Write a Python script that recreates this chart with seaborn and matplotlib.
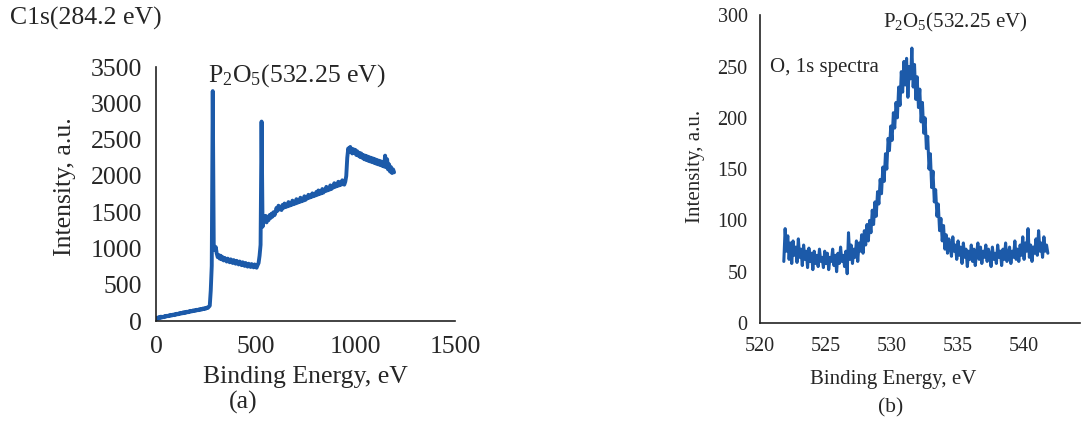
import numpy as np
import pandas as pd
import seaborn as sns
from matplotlib import pyplot as plt

# survey spectrum (a), binding energy every 5 eV from 0 to 1195
survey_start = 0
survey_step = 5
survey_intensity = [
    25, 45, 30, 55, 40, 60, 48, 58, 52, 70, 60, 72, 66, 78, 70, 85, 76, 88, 80, 95,
    86, 100, 92, 106, 98, 112, 104, 118, 108, 124, 114, 128, 120, 134, 126, 140, 132, 145, 138, 150,
    142, 155, 148, 160, 152, 166, 158, 172, 164, 178, 170, 185, 180, 195, 210, 420, 760, 3170, 1060, 980,
    1020, 930, 880, 910, 860, 900, 850, 880, 835, 870, 845, 820, 860, 830, 810, 850, 825, 800, 840, 815,
    790, 830, 805, 780, 820, 790, 770, 810, 785, 760, 800, 775, 750, 790, 770, 745, 785, 760, 740, 780,
    755, 735, 770, 800, 900, 1050, 2750, 1300, 1420, 1380, 1450, 1360, 1430, 1390, 1460, 1420, 1480, 1440, 1500, 1460,
    1500, 1560, 1520, 1590, 1540, 1570, 1530, 1600, 1560, 1620, 1570, 1600, 1580, 1640, 1590, 1620, 1600, 1660, 1610, 1640,
    1620, 1680, 1630, 1660, 1640, 1700, 1650, 1680, 1660, 1720, 1670, 1700, 1690, 1740, 1700, 1730, 1710, 1760, 1720, 1750,
    1730, 1780, 1740, 1800, 1750, 1790, 1760, 1820, 1770, 1810, 1790, 1850, 1800, 1830, 1810, 1870, 1820, 1860, 1840, 1900,
    1850, 1890, 1860, 1920, 1870, 1910, 1880, 1940, 1900, 1880, 1920, 2000, 2250, 2380, 2330, 2400, 2350, 2310, 2370, 2320,
    2360, 2290, 2340, 2280, 2320, 2260, 2310, 2250, 2290, 2230, 2280, 2220, 2270, 2210, 2260, 2200, 2250, 2190, 2240, 2180,
    2230, 2170, 2220, 2160, 2210, 2150, 2200, 2140, 2190, 2130, 2280, 2120, 2230, 2090, 2160, 2060, 2120, 2040, 2090, 2050,
]

# O 1s spectrum (b), every 0.1 eV from 521.8 to 541.8
o1s_start = 521.8
o1s_step = 0.1
o1s_intensity = [
    60, 92, 70, 85, 62, 78, 58, 80, 66, 74,
    59, 82, 64, 72, 56, 76, 62, 70, 54, 73,
    60, 68, 52, 70, 58, 66, 55, 72, 60, 64,
    54, 70, 58, 68, 52, 64, 60, 72, 56, 66,
    50, 68, 58, 74, 60, 66, 55, 70, 48, 88,
    62, 76, 58, 72, 64, 80, 60, 78, 70, 86,
    68, 90, 76, 96, 80, 100, 88, 110, 96, 118,
    104, 128, 116, 140, 126, 152, 138, 165, 150, 180,
    168, 192, 178, 205, 190, 215, 200, 230, 212, 245,
    225, 255, 232, 258, 220, 250, 238, 268, 230, 252,
    218, 240, 210, 228, 196, 215, 185, 200, 170, 182,
    150, 165, 132, 148, 118, 130, 104, 116, 90, 102,
    80, 95, 72, 86, 68, 82, 74, 65, 84, 70,
    76, 62, 80, 66, 74, 58, 78, 64, 72, 55,
    70, 62, 76, 60, 72, 56, 68, 78, 62, 74,
    58, 70, 64, 76, 60, 72, 66, 55, 74, 62,
    68, 58, 76, 64, 70, 56, 72, 62, 78, 60,
    66, 74, 58, 70, 64, 80, 62, 72, 60, 76,
    66, 84, 62, 78, 70, 92, 64, 76, 60, 74,
    68, 82, 66, 90, 70, 78, 64, 84, 70, 76,
    68,
]

survey = pd.DataFrame({
    "energy": survey_start + survey_step * np.arange(len(survey_intensity)),
    "intensity": survey_intensity,
})
o1s = pd.DataFrame({
    "energy": np.round(o1s_start + o1s_step * np.arange(len(o1s_intensity)), 1),
    "intensity": o1s_intensity,
})

sns.set_style("white")
plt.rcParams["font.family"] = ["Liberation Serif", "DejaVu Serif"]
plt.rcParams["mathtext.fontset"] = "custom"
plt.rcParams["mathtext.rm"] = "Liberation Serif"
plt.rcParams["mathtext.it"] = "Liberation Serif:italic"

blue = "#1c5aa9"
fig = plt.figure(figsize=(10.83, 4.21), dpi=100)

# --- (a) survey
ax1 = fig.add_axes([0.144, 0.2375, 0.276, 0.603])
sns.lineplot(data=survey, x="energy", y="intensity", ax=ax1, color=blue, linewidth=2.8)
ax1.set_xlim(0, 1500)
ax1.set_ylim(0, 3500)
ax1.set_xticks([0, 500, 1000, 1500])
ax1.set_yticks(range(0, 3501, 500))
ax1.tick_params(axis="x", labelsize=18.5, length=0, pad=11)
ax1.tick_params(axis="y", labelsize=18.5, length=0, pad=10)
ax1.set_xlabel("Binding Energy, eV", fontsize=18.5)
ax1.set_ylabel("Intensity, a.u.", fontsize=18.5)
ax1.xaxis.set_label_coords(0.5, -0.178)
ax1.yaxis.set_label_coords(-0.268, 0.53)
ax1.text(261, 3390, "P$_2$O$_5$(532.25 eV)", fontsize=18.5, ha="left", va="center")
fig.text(0.009, 0.955, "C1s(284.2 eV)", fontsize=18.5, ha="left", va="center")
fig.text(0.225, 0.043, "(a)", fontsize=18.5, ha="center", va="center")

# --- (b) O 1s
ax2 = fig.add_axes([0.7018, 0.2328, 0.295, 0.731])
sns.lineplot(data=o1s, x="energy", y="intensity", ax=ax2, color=blue, linewidth=2.2)
ax2.set_xlim(520, 544.2)
ax2.set_ylim(0, 300)
ax2.set_xticks([520, 525, 530, 535, 540])
ax2.set_yticks(range(0, 301, 50))
ax2.tick_params(axis="x", labelsize=14.5, length=0, pad=10)
ax2.tick_params(axis="y", labelsize=14.5, length=0, pad=9)
ax2.set_xlabel("Binding Energy, eV", fontsize=15)
ax2.set_ylabel("Intensity, a.u.", fontsize=15)
ax2.xaxis.set_label_coords(0.416, -0.152)
ax2.yaxis.set_label_coords(-0.172, 0.51)
ax2.text(529.3, 293, "P$_2$O$_5$(532.25 eV)", fontsize=15, ha="left", va="center")
ax2.text(520.76, 249, "O, 1s spectra", fontsize=15, ha="left", va="center")
fig.text(0.822, 0.031, "(b)", fontsize=15.5, ha="center", va="center")

for ax in (ax1, ax2):
    sns.despine(ax=ax)
    for side in ("left", "bottom"):
        ax.spines[side].set_color("#222222")
        ax.spines[side].set_linewidth(1.2)

fig.savefig("out.png", dpi=100)
